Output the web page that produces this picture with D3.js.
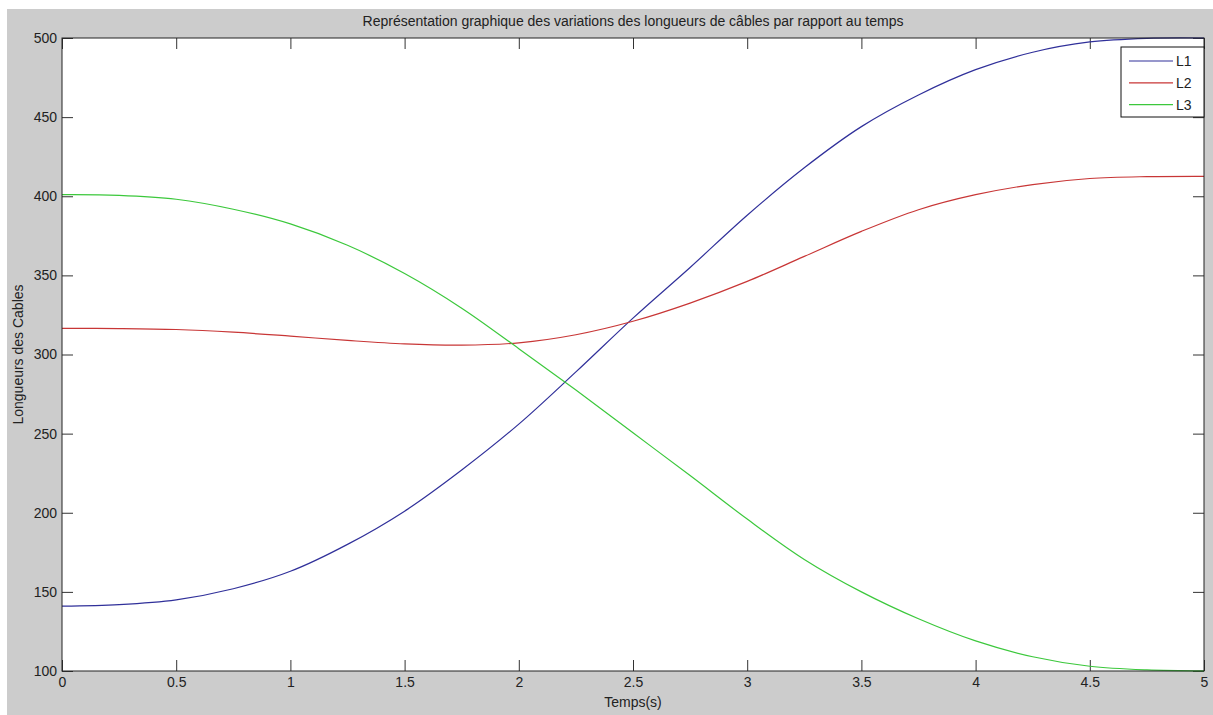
<!DOCTYPE html>
<html>
<head>
  <meta charset="utf-8">
  <title>Longueurs des câbles</title>
  <script src="https://cdn.jsdelivr.net/npm/d3@7"></script>
  <style>
    body { margin: 0; background: #fff; }
    svg text { font-family: "Liberation Sans", Arial, sans-serif; fill: #222; }
    .axis path { display: none; }
    .axis line { stroke: #333; }
    .axis text { font-size: 14px; fill: #222; }
  </style>
</head>
<body>
  <svg></svg>
  <script>
    // data (time step 0.25 s)
    var temps = [0, 0.25, 0.5, 0.75, 1, 1.25, 1.5, 1.75, 2, 2.25, 2.5,
      2.75, 3, 3.25, 3.5, 3.75, 4, 4.25, 4.5, 4.75, 5];
    var L1 = [141, 142, 145, 152, 163, 180, 201, 227, 256, 289, 323,
      355, 388, 418, 444, 464, 480, 491, 497.5, 499.8, 500];
    var L2 = [316.5, 316.4, 315.8, 314.1, 311.6, 308.9, 306.7, 305.9, 307.4, 312.5, 321,
      332.5, 346.2, 362, 377.8, 391.5, 401, 407.4, 411.2, 412.4, 412.6];
    var L3 = [401, 400.6, 398.1, 391.8, 382.5, 369, 351.2, 329.3, 303.7, 277.5, 250.5,
      223.5, 196, 170.5, 150, 133, 119, 109, 103, 100.7, 100.1];
    var seriesNames = ["L1", "L2", "L3"];
    var seriesColors = ["#30309a", "#c83636", "#3cc83c"];
    var xTicks = [0, 0.5, 1, 1.5, 2, 2.5, 3, 3.5, 4, 4.5, 5];
    var yTicks = [100, 150, 200, 250, 300, 350, 400, 450, 500];

    var svgWidth = 1213, svgHeight = 715,
      plot = { left: 62, top: 38, right: 1204, bottom: 671 },
      tickLen = 11;

    var svg = d3.select("svg")
      .attr("width", svgWidth)
      .attr("height", svgHeight);

    // grey figure background
    svg.append("rect")
      .attr("x", 7).attr("y", 9)
      .attr("width", svgWidth - 7).attr("height", svgHeight - 9)
      .attr("fill", "#cccccc");

    svg.append("rect")
      .attr("x", plot.left).attr("y", plot.top)
      .attr("width", plot.right - plot.left).attr("height", plot.bottom - plot.top)
      .attr("fill", "#fff");

    var x = d3.scaleLinear().domain([0, 5]).range([plot.left, plot.right]);
    var y = d3.scaleLinear().domain([100, 500]).range([plot.bottom, plot.top]);

    var series = [L1, L2, L3];
    var line = d3.line()
      .x(function (d, i) { return x(temps[i]); })
      .y(function (d) { return y(d); })
      .curve(d3.curveCatmullRom.alpha(0.5));

    // axes with inward ticks
    svg.append("g").attr("class", "axis")
      .attr("transform", "translate(0," + plot.bottom + ")")
      .call(d3.axisBottom(x).tickValues(xTicks).tickSizeInner(-tickLen).tickSizeOuter(0).tickPadding(6)
        .tickFormat(function (d) { return d; }));
    svg.append("g").attr("class", "axis")
      .attr("transform", "translate(0," + plot.top + ")")
      .call(d3.axisTop(x).tickValues(xTicks).tickSizeInner(-tickLen).tickSizeOuter(0).tickFormat(""));
    svg.append("g").attr("class", "axis")
      .attr("transform", "translate(" + plot.left + ",0)")
      .call(d3.axisLeft(y).tickValues(yTicks).tickSizeInner(-tickLen).tickSizeOuter(0).tickPadding(5));
    svg.append("g").attr("class", "axis")
      .attr("transform", "translate(" + plot.right + ",0)")
      .call(d3.axisRight(y).tickValues(yTicks).tickSizeInner(-tickLen).tickSizeOuter(0).tickFormat(""));

    svg.append("g")
      .selectAll("path")
      .data(series)
      .enter()
      .append("path")
      .attr("d", line)
      .attr("fill", "none")
      .attr("stroke", function (d, i) { return seriesColors[i]; })
      .attr("stroke-width", 1.2);

    // plot border
    svg.append("rect")
      .attr("x", plot.left).attr("y", plot.top)
      .attr("width", plot.right - plot.left).attr("height", plot.bottom - plot.top)
      .attr("fill", "none")
      .attr("stroke", "#222");

    // title and axis labels
    svg.append("text")
      .attr("x", (plot.left + plot.right) / 2).attr("y", 26)
      .attr("text-anchor", "middle")
      .style("font-size", "14px")
      .text("Représentation graphique des variations des longueurs de câbles par rapport au temps");

    svg.append("text")
      .attr("x", (plot.left + plot.right) / 2).attr("y", 707)
      .attr("text-anchor", "middle")
      .style("font-size", "14px")
      .text("Temps(s)");

    svg.append("text")
      .attr("transform", "translate(23," + (plot.top + plot.bottom) / 2 + ") rotate(-90)")
      .attr("text-anchor", "middle")
      .style("font-size", "14px")
      .text("Longueurs des Cables");

    // legend
    var legend = svg.append("g").attr("transform", "translate(1121,47)");
    legend.append("rect")
      .attr("width", 83).attr("height", 70)
      .attr("fill", "#fff").attr("stroke", "#111");
    var rows = legend.selectAll(".row")
      .data(seriesNames)
      .enter()
      .append("g")
      .attr("transform", function (d, i) { return "translate(0," + (14 + i * 21.8) + ")"; });
    rows.append("line")
      .attr("x1", 8).attr("x2", 52)
      .attr("stroke", function (d, i) { return seriesColors[i]; })
      .attr("stroke-width", 1.2);
    rows.append("text")
      .attr("x", 55).attr("dy", "0.36em")
      .style("font-size", "14px")
      .text(function (d) { return d; });
  </script>
</body>
</html>
